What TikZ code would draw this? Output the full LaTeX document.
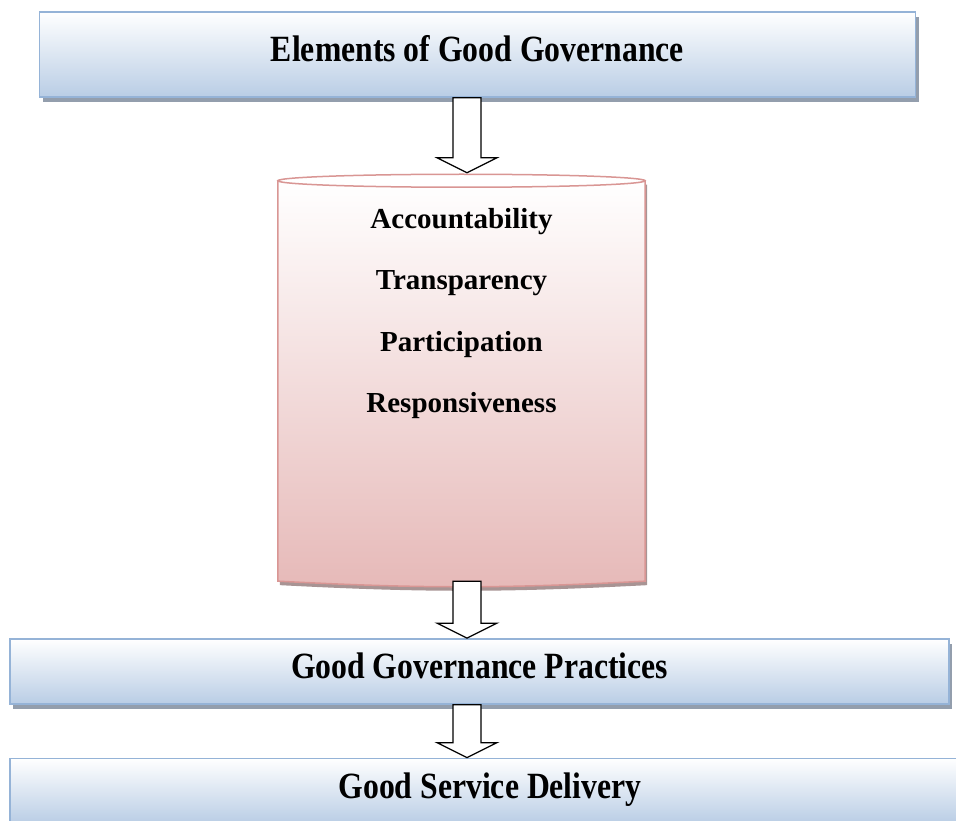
\documentclass[tikz,border=0pt]{standalone}
\usepackage{fontspec}
\setmainfont{Liberation Serif}
\newfontfamily\tallserif[FakeStretch=0.857]{Liberation Serif}
\usetikzlibrary{positioning,calc,shadows}

\definecolor{boxblue}{HTML}{B9CDE5}
\definecolor{boxline}{HTML}{95B3D7}
\definecolor{boxshade}{HTML}{939EAD}
\definecolor{canpink}{HTML}{E6B9B8}
\definecolor{canline}{HTML}{D99694}
\definecolor{canshade}{HTML}{A89494}

\begin{document}
\begin{tikzpicture}[
  govbox/.style={draw=boxline, line width=1.5pt, top color=white, bottom color=boxblue, minimum height=65pt, font=\tallserif\fontsize{37}{44}\selectfont\bfseries, inner sep=0pt, text height=26pt, text depth=11pt, drop shadow={shadow xshift=3pt, shadow yshift=-5pt, fill=boxshade, opacity=1}},
  canbody/.style={minimum width=367pt, minimum height=400pt, inner sep=0pt},
  canrim/.style={draw=canline, line width=1.5pt},
  listtext/.style={align=center, inner sep=0pt, font=\fontsize{29}{61.5}\selectfont\bfseries},
  hollow/.style={draw=black, fill=white, line width=1.2pt, to path={let \p1=(\tikztostart), \p2=(\tikztotarget) in
    (\x1-14pt,\y1) -- (\x1+14pt,\y1) -- (\x1+14pt,\y2+15pt) -- (\x1+30pt,\y2+15pt)
    -- (\x1,\y2) -- (\x1-30pt,\y2+15pt) -- (\x1-14pt,\y2+15pt) -- cycle}}
]
\useasboundingbox (0,0) rectangle (956pt,-821pt);

\node[govbox, minimum width=876pt, minimum height=85pt] (elem) at (477.5pt,-54.5pt) {Elements of Good Governance};

% the can: body, then its lid
\node[canbody, below=83pt of elem, xshift=-16pt] (cyl) {};
\path[canrim, top color=white, bottom color=canpink, drop shadow={shadow xshift=2pt, shadow yshift=-4pt, fill=canshade, opacity=1}]
  (cyl.north west) -- (cyl.south west) to[bend right=3] (cyl.south east) -- (cyl.north east) -- cycle;
\draw[canrim, fill=white] (cyl.north) ellipse [x radius=183.5pt, y radius=6.5pt];
\node[listtext, below=27pt of cyl.north] (elts) {Accountability\\ Transparency\\ Participation\\ Responsiveness};

\node[govbox, minimum width=939pt, below=57pt of cyl, xshift=18pt] (prac) {Good Governance Practices};
\node[govbox, minimum width=960pt, below=53pt of prac, xshift=10.5pt] (serv) {Good Service Delivery};

\draw[hollow] ([xshift=-10.5pt]elem.south) to ([xshift=5.5pt, yshift=8pt]cyl.north);
\draw[hollow] ([xshift=5.5pt]cyl.south) to ([xshift=-12.5pt]prac.north);
\draw[hollow] ([xshift=-12.5pt]prac.south) to (serv.north);
\end{tikzpicture}
\end{document}
